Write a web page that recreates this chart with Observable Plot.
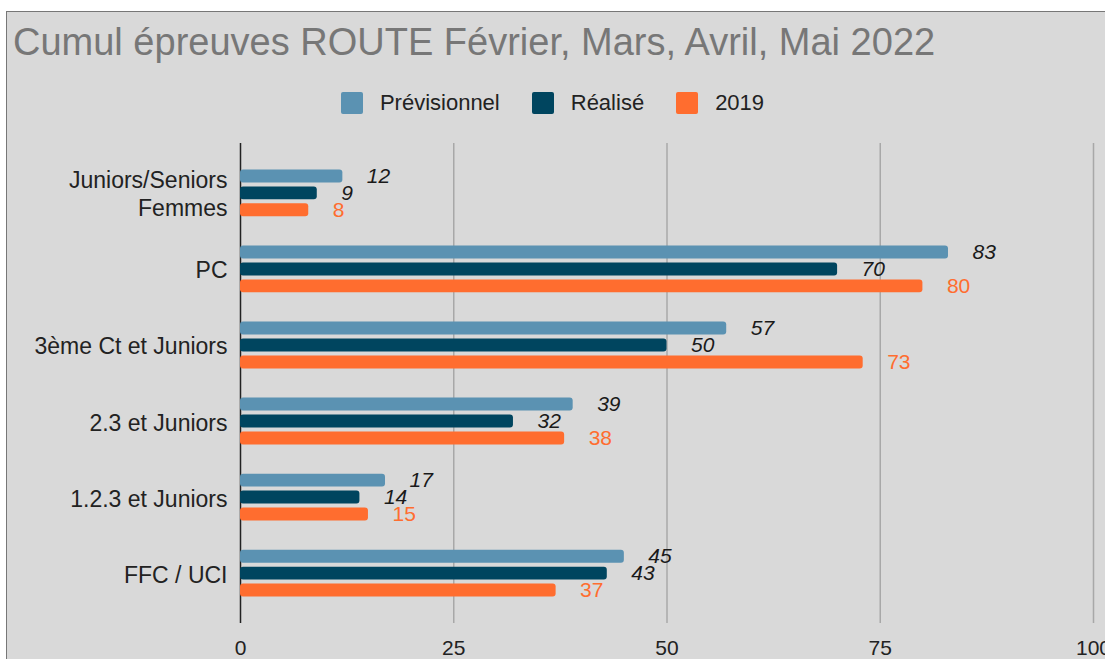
<!DOCTYPE html>
<html><head><meta charset="utf-8">
<script src="https://cdn.jsdelivr.net/npm/d3@7"></script>
<script src="https://cdn.jsdelivr.net/npm/@observablehq/plot@0.6"></script>
<style>
html,body{margin:0;padding:0;background:#fff;}
body{width:1105px;height:659px;overflow:hidden;position:relative;font-family:"Liberation Sans",Arial,sans-serif;}
#frame{position:absolute;left:6px;top:11px;width:1200px;height:800px;background:#d9d9d9;border-left:1.5px solid #777;border-top:1.5px solid #777;}
#title{position:absolute;left:13px;top:23px;font-size:38px;line-height:38px;color:#777;white-space:nowrap;}
#legend{position:absolute;left:0;top:92px;width:1105px;display:flex;justify-content:center;gap:32px;font-size:22px;line-height:22px;color:#222;}
.item{display:flex;align-items:center;gap:17px}
.sw{width:22px;height:22px;border-radius:2px}
#chart{position:absolute;left:0;top:130px;width:1105px;height:529px}
#chart svg{position:absolute;left:0;top:0;overflow:visible;max-width:none}
</style></head>
<body>
<div id="frame"></div>
<div id="title">Cumul épreuves ROUTE Février, Mars, Avril, Mai 2022</div>
<div id="legend"></div>
<div id="chart"></div>
<script>
const categories = ["Juniors/Seniors\nFemmes", "PC", "3ème Ct et Juniors", "2.3 et Juniors", "1.2.3 et Juniors", "FFC / UCI"];
const series = ["Prévisionnel", "Réalisé", "2019"];
const previsionnel = [12, 83, 57, 39, 17, 45];
const realise = [9, 70, 50, 32, 14, 43];
const values2019 = [8, 80, 73, 38, 15, 37];
const xTicks = [0, 25, 50, 75, 100];
const colors = ["#5b92b2", "#00455f", "#ff6d2f"];

const seriesValues = [previsionnel, realise, values2019];
const rows = [];
categories.forEach((c, i) => series.forEach((s, j) => rows.push({category: c, series: s, value: seriesValues[j][i]})));

// legend
const legend = document.getElementById("legend");
series.forEach((s, j) => {
  const item = document.createElement("div");
  item.className = "item";
  const sw = document.createElement("div");
  sw.className = "sw";
  sw.style.background = colors[j];
  const t = document.createElement("span");
  t.textContent = s;
  item.appendChild(sw); item.appendChild(t);
  legend.appendChild(item);
});

const common = {
  width: 1105, height: 529,
  marginLeft: 240, marginRight: 12, marginTop: 13, marginBottom: 36,
  style: {background: "transparent", fontFamily: "'Liberation Sans', Arial, sans-serif", fontSize: "21px", color: "#222", overflow: "visible"}
};

const grid = Plot.plot({
  ...common,
  x: {domain: [0, 100], ticks: xTicks, tickSize: 0, tickPadding: 17, label: null, tickFormat: d => String(d)},
  marks: [
    Plot.ruleX(xTicks.filter(d => d > 0), {stroke: "#a8a8a8", strokeWidth: 1.5}),
    Plot.ruleX([0], {stroke: "#222", strokeWidth: 1.5})
  ]
});

const bars = Plot.plot({
  ...common,
  x: {domain: [0, 100], axis: null},
  fy: {domain: categories, paddingInner: 0.34, paddingOuter: 0.326, round: false, axis: null, label: null},
  y: {domain: series, paddingInner: 0.235, paddingOuter: 0.0975, round: false, axis: null, label: null},
  color: {domain: series, range: colors},
  marks: [
    Plot.barX(rows, {fy: "category", y: "series", x: "value", fill: "series", rx: 3}),
    Plot.text(rows.filter(d => d.series !== "2019"), {fy: "category", y: "series", x: "value", text: d => String(d.value), textAnchor: "start", dx: 24, fontSize: 21, fontStyle: "italic", fill: "#1a1a1a"}),
    Plot.text(rows.filter(d => d.series === "2019"), {fy: "category", y: "series", x: "value", text: d => String(d.value), textAnchor: "start", dx: 24, fontSize: 21, fill: colors[2]}),
    Plot.text(categories, {fy: d => d, text: d => d, frameAnchor: "left", textAnchor: "end", dx: -13, fontSize: 23, lineHeight: 1.22, fill: "#222"})
  ]
});

const chart = document.getElementById("chart");
chart.appendChild(grid);
chart.appendChild(bars);
</script>
</body></html>
